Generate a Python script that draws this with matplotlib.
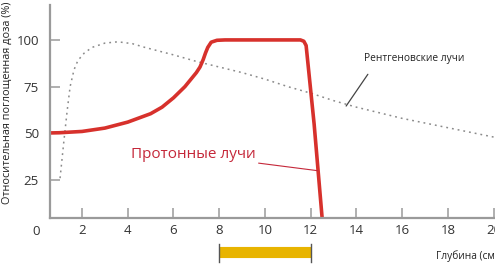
import numpy as np
import matplotlib.pyplot as plt

plt.rcParams['font.family'] = ['Open Sans', 'DejaVu Sans']

# протонные лучи (глубина, доза)
proton_depth = [0.6, 1, 2, 3, 4, 5, 5.5, 6, 6.5, 6.8, 7.0, 7.16, 7.3, 7.4, 7.5, 7.65, 7.9, 8.25,
                11.55, 11.7, 11.8, 12.15, 12.5]
proton_dose = [50.2, 50.3, 51, 52.8, 56, 60.5, 64, 69, 75, 79.5, 82.5, 85.5, 89.5, 93, 96, 98.8, 99.8, 100,
               100, 99.3, 97, 55, 4.7]

# рентгеновские лучи
xray_depth = [1.04, 1.2, 1.35, 1.48, 1.65, 1.82, 2.1, 2.44, 3.0, 3.57, 4.2, 4.75, 6, 7, 8, 9, 10, 11, 12,
              13, 14, 15, 16, 17, 18, 19, 20]
xray_dose = [26, 45, 62, 75, 84, 89, 93, 96, 98.3, 99, 98, 96, 92, 88.5, 85.5, 82.5, 79, 75, 71.5,
             67.5, 64, 61, 58, 55.5, 53, 50.5, 48]

xticks = [2, 4, 6, 8, 10, 12, 14, 16, 18, 20]
yticks = [25, 50, 75, 100]
band = [8, 12]

fig = plt.figure(figsize=(4.95, 2.67), dpi=100)
ax = fig.add_axes([50 / 495, 1 - 218 / 267, 445 / 495, 213 / 267])

ax.plot(xray_depth, xray_dose, color='#8a8a8a', lw=1.1, ls=(0, (1.2, 2.6)))
ax.plot(proton_depth, proton_dose, color='#d7312c', lw=2.6, solid_capstyle='butt')

ax.set_xlim(0.6, 20.06)
ax.set_ylim(4.66, 118.7)

for s in ['top', 'right']:
    ax.spines[s].set_visible(False)
for s in ['left', 'bottom']:
    ax.spines[s].set_color('#9a9a9a')
    ax.spines[s].set_linewidth(1.6)

ax.set_xticks(xticks)
ax.set_yticks(yticks)
ax.tick_params(direction='in', length=7, width=1.1, color='#9a9a9a',
               labelsize=9.5, labelcolor='#333333', pad=4)
ax.tick_params(axis='y', pad=8)
ax.text(0, 4.66 - 3.5, '0', ha='center', va='top', fontsize=9.5, color='#333333', clip_on=False)

# подписи
ax.annotate('Протонные лучи', xy=(12.3, 30), xytext=(9.6, 38.5),
            ha='right', va='center', fontsize=11, color='#c5283a',
            arrowprops=dict(arrowstyle='-', color='#c5283a', lw=0.8, shrinkA=0, shrinkB=0))
ax.annotate('', xy=(13.55, 64.6), xytext=(14.5, 81.6),
            arrowprops=dict(arrowstyle='-', color='#444444', lw=0.9, shrinkA=0, shrinkB=0))
ax.text(14.35, 90, 'Рентгеновские лучи', ha='left', va='center', fontsize=7.3, color='#222222')

# полоса 8-12 см
ax.plot(band, [-13.8, -13.8], color='#e8b400', lw=8, solid_capstyle='butt', clip_on=False)
for b in band:
    ax.plot([b, b], [-9.3, -19], color='#555555', lw=1, clip_on=False)

ax.text(17.5, -15.5, 'Глубина (см)', ha='left', va='center', fontsize=7.3, color='#222222',
        clip_on=False)
fig.text(0.004, 0.615, 'Относительная поглощенная доза (%)', rotation=90,
         ha='left', va='center', fontsize=7.8, color='#222222')

fig.savefig('out.png', dpi=100)
